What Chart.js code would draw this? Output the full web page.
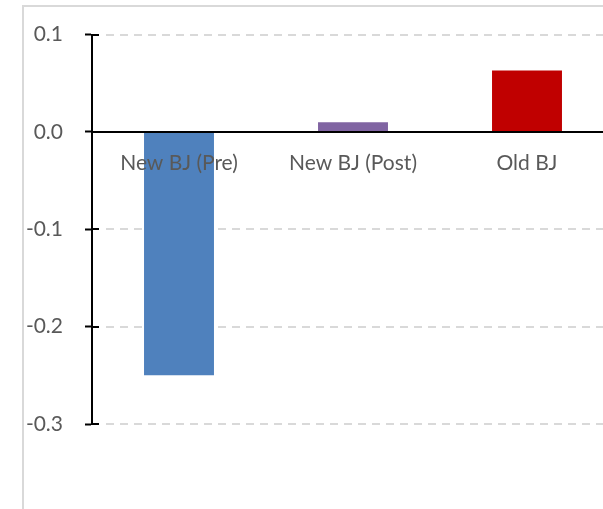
<!DOCTYPE html>
<html>
<head>
<meta charset="utf-8">
<title>BJ comparison</title>
<script src="https://cdn.jsdelivr.net/npm/chart.js@4"></script>
<style>
  html, body { margin: 0; padding: 0; background: #fff; overflow: hidden; }
  #frame { position: absolute; left: 22px; top: 5px; width: 700px; height: 600px;
           border: 2px solid #d9d9d9; box-sizing: border-box; }
  #wrap { position: absolute; left: 0; top: 0; width: 620px; height: 509px; }
</style>
</head>
<body>
<div id="frame"></div>
<div id="wrap"><canvas id="bjChart"></canvas></div>
<script>
const categories = ['New BJ (Pre)', 'New BJ (Post)', 'Old BJ'];
const values = [-0.25, 0.01, 0.063];
const barColors = ['#4F81BD', '#8064A2', '#C00000'];
const yTicks = [0.1, 0.0, -0.1, -0.2, -0.3];

const labelFont = { family: 'Lato, "Open Sans", sans-serif', size: 21 };

// dashed gridlines start a little right of the axis; ticks cross the axis
const dashedGrid = {
    id: 'dashedGrid',
    beforeDatasetsDraw(chart) {
        const { ctx, chartArea, scales } = chart;
        const y = scales.y;
        ctx.save();
        y.ticks.forEach(function (t) {
            const py = Math.round(y.getPixelForValue(t.value));
            ctx.setLineDash([]);
            ctx.strokeStyle = '#000';
            ctx.lineWidth = 2;
            ctx.beginPath();
            ctx.moveTo(chartArea.left, py);
            ctx.lineTo(chartArea.left + 7, py);
            ctx.stroke();
            if (t.value === 0) return;
            ctx.setLineDash([8, 6]);
            ctx.strokeStyle = '#d9d9d9';
            ctx.lineWidth = 2;
            ctx.beginPath();
            ctx.moveTo(chartArea.left + 14, py);
            ctx.lineTo(chartArea.right, py);
            ctx.stroke();
        });
        ctx.restore();
    }
};

const ctx = document.getElementById('bjChart').getContext('2d');
new Chart(ctx, {
    type: 'bar',
    data: {
        labels: categories,
        datasets: [{
            data: values,
            backgroundColor: barColors,
            borderWidth: 0,
            barPercentage: 0.402,
            categoryPercentage: 1
        }]
    },
    options: {
        responsive: true,
        maintainAspectRatio: false,
        animation: false,
        layout: { padding: { top: 27, right: 6, bottom: 85, left: 0 } },
        plugins: { legend: { display: false }, tooltip: { enabled: false } },
        scales: {
            x: {
                position: { y: 0 },
                grid: { display: false },
                border: { color: '#000', width: 2, z: 1 },
                ticks: { color: '#595959', font: labelFont, padding: 11, maxRotation: 0, z: 1 }
            },
            y: {
                min: -0.3,
                max: 0.1,
                afterBuildTicks: function (s) { s.ticks = yTicks.map(v => ({ value: v })); },
                afterFit: function (s) { s.width = 92; },
                grid: { drawOnChartArea: false, drawTicks: true, tickLength: 7, tickColor: '#000', tickWidth: 2 },
                border: { color: '#000', width: 2 },
                ticks: {
                    color: '#595959',
                    font: labelFont,
                    padding: 22,
                    callback: v => v.toFixed(1)
                }
            }
        }
    },
    plugins: [dashedGrid]
});
</script>
</body>
</html>
